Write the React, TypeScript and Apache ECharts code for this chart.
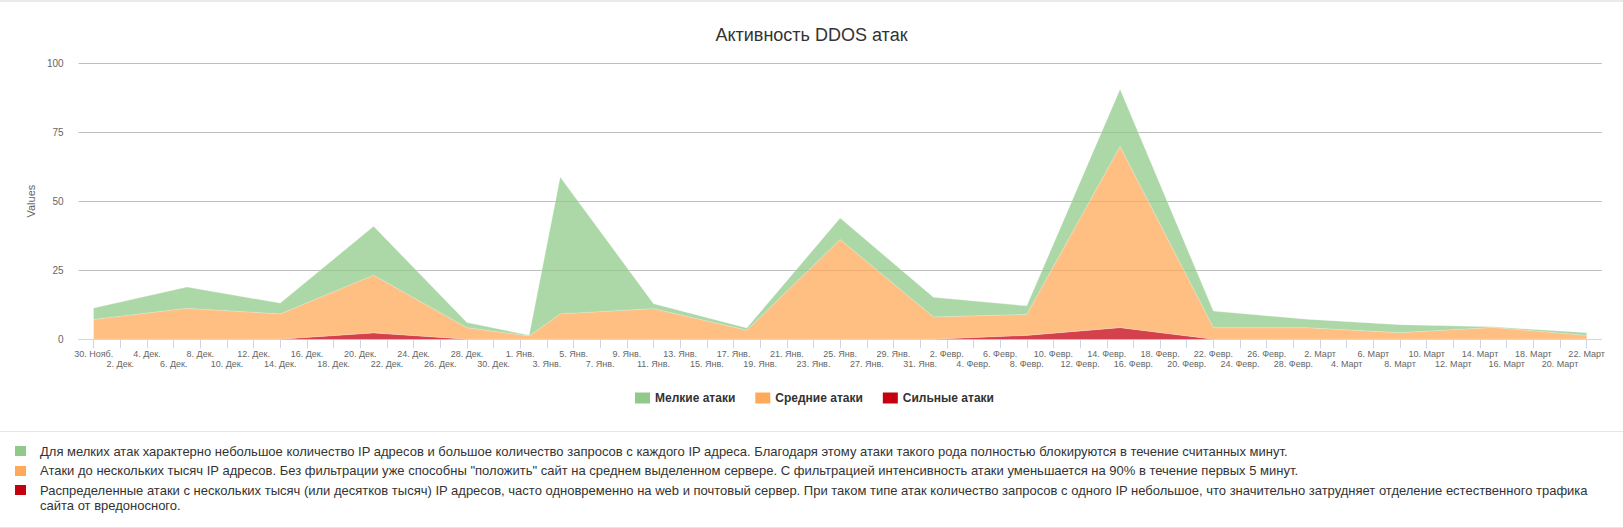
import React, { useEffect, useRef } from "react";
import * as echarts from "echarts";

// dates of the data points (UTC)
const pointDates = [
  "2014-11-30",
  "2014-12-07",
  "2014-12-14",
  "2014-12-21",
  "2014-12-28",
  "2015-01-01T16:00:00Z",
  "2015-01-04",
  "2015-01-11",
  "2015-01-18",
  "2015-01-25",
  "2015-02-01",
  "2015-02-08",
  "2015-02-15",
  "2015-02-22",
  "2015-03-01",
  "2015-03-08",
  "2015-03-15",
  "2015-03-22",
];

const smallAttacks = [4.1, 7.7, 3.9, 17.7, 1.9, 0.25, 49.5, 1.8, 0.8, 7.8, 7.1, 3.1, 20.7, 6.0, 3.1, 2.9, 0.2, 1.0];
const mediumAttacks = [7.2, 11.2, 9.2, 20.9, 4.2, 1.2, 9.2, 11.1, 3.3, 36.1, 8.1, 7.6, 65.6, 4.2, 4.2, 2.4, 4.3, 1.4];
const strongAttacks = [0, 0, 0, 2.3, 0, 0, 0, 0, 0, 0, 0, 1.4, 4.2, 0, 0, 0, 0, 0];

const seriesNames = ["Мелкие атаки", "Средние атаки", "Сильные атаки"];
const seriesColors = ["#90c98a", "#ffaa5a", "#c5000f"];

// one tick every 2 days, starting 30 Nov
const tickLabels = [
  "30. Нояб.",
  "2. Дек.", "4. Дек.", "6. Дек.", "8. Дек.", "10. Дек.", "12. Дек.", "14. Дек.", "16. Дек.",
  "18. Дек.", "20. Дек.", "22. Дек.", "24. Дек.", "26. Дек.", "28. Дек.", "30. Дек.",
  "1. Янв.", "3. Янв.", "5. Янв.", "7. Янв.", "9. Янв.", "11. Янв.", "13. Янв.", "15. Янв.",
  "17. Янв.", "19. Янв.", "21. Янв.", "23. Янв.", "25. Янв.", "27. Янв.", "29. Янв.", "31. Янв.",
  "2. Февр.", "4. Февр.", "6. Февр.", "8. Февр.", "10. Февр.", "12. Февр.", "14. Февр.",
  "16. Февр.", "18. Февр.", "20. Февр.", "22. Февр.", "24. Февр.", "26. Февр.", "28. Февр.",
  "2. Март", "4. Март", "6. Март", "8. Март", "10. Март", "12. Март", "14. Март", "16. Март",
  "18. Март", "20. Март", "22. Март",
];

const descriptions = [
  "Для мелких атак характерно небольшое количество IP адресов и большое количество запросов с каждого IP адреса. Благодаря этому атаки такого рода полностью блокируются в течение считанных минут.",
  "Атаки до нескольких тысяч IP адресов. Без фильтрации уже способны \"положить\" сайт на среднем выделенном сервере. С фильтрацией интенсивность атаки уменьшается на 90% в течение первых 5 минут.",
  "Распределенные атаки с нескольких тысяч (или десятков тысяч) IP адресов, часто одновременно на web и почтовый сервер. При таком типе атак количество запросов с одного IP небольшое, что значительно затрудняет отделение естественного трафика сайта от вредоносного.",
];

const DAY = 86400000;
const START = Date.parse(pointDates[0]);
const dayOffset = (d: string) => (Date.parse(d) - START) / DAY;
const FONT = "'Liberation Sans', Arial, Helvetica, sans-serif";

export default function App() {
  const chartRef = useRef<HTMLDivElement>(null);

  useEffect(() => {
    if (!chartRef.current) return;
    const chart = echarts.init(chartRef.current, null, { renderer: "svg" });

    const xs = pointDates.map(dayOffset);
    const tickDays = tickLabels.map((_, i) => i * 2);
    const evenDays = tickDays.filter((_, i) => i % 2 === 0);
    const oddDays = tickDays.filter((_, i) => i % 2 === 1);
    const lastDay = tickDays[tickDays.length - 1];
    const pad = 1.13;

    const labelFor = (value: number) => tickLabels[Math.round(value / 2)] ?? "";
    const labelStyle = {
      fontSize: 9,
      color: "#666666",
      fontFamily: FONT,
      hideOverlap: false,
      showMinLabel: true,
      showMaxLabel: true,
      formatter: labelFor,
    };

    // value first, day second, so the stack is done on the y values
    const makeSeries = (idx: number, values: number[]) => ({
      name: seriesNames[idx],
      type: "line",
      stack: "total",
      showSymbol: false,
      symbol: "none",
      xAxisIndex: 0,
      encode: { x: 1, y: 0 },
      data: values.map((v, i) => [v, xs[i]]),
      itemStyle: { color: seriesColors[idx] },
      lineStyle: { width: 0.8, color: "rgba(255,255,255,0.35)" },
      areaStyle: { color: seriesColors[idx], opacity: 0.75 },
    });

    const option: echarts.EChartsOption = {
      animation: false,
      textStyle: { fontFamily: FONT },
      title: {
        text: "Активность DDOS атак",
        left: "center",
        top: 24,
        padding: 0,
        textStyle: { fontSize: 18, fontWeight: "normal", color: "#333333", fontFamily: FONT },
      },
      legend: {
        data: seriesNames,
        top: 390,
        left: 635,
        padding: 0,
        icon: "rect",
        itemWidth: 15,
        itemHeight: 11,
        itemGap: 20,
        textStyle: { fontSize: 12, fontWeight: "bold", color: "#333333", fontFamily: FONT },
      },
      grid: { left: 78.6, right: 21.3, top: 61, bottom: 92.7 },
      xAxis: [
        {
          type: "value",
          position: "bottom",
          min: -pad,
          max: lastDay + pad,
          splitLine: { show: false },
          axisLine: { lineStyle: { color: "#ccd6eb" } },
          axisTick: {
            customValues: tickDays,
            length: 9,
            lineStyle: { color: "#ccd6eb" },
          },
          axisLabel: { ...labelStyle, customValues: evenDays, margin: 10 },
        },
        {
          type: "value",
          position: "bottom",
          min: -pad,
          max: lastDay + pad,
          splitLine: { show: false },
          axisLine: { show: false },
          axisTick: { show: false },
          axisLabel: { ...labelStyle, customValues: oddDays, margin: 20 },
        },
      ] as any,
      yAxis: {
        type: "value",
        min: 0,
        max: 100,
        interval: 25,
        name: "Values",
        nameLocation: "middle",
        nameGap: 42,
        nameTextStyle: { fontSize: 11, color: "#666666", fontFamily: FONT },
        axisLine: { show: false },
        axisTick: { show: false },
        axisLabel: { fontSize: 10, color: "#666666", margin: 15, fontFamily: FONT },
        splitLine: { lineStyle: { color: "#bdbdbd" } },
      },
      series: [
        makeSeries(2, strongAttacks),
        makeSeries(1, mediumAttacks),
        makeSeries(0, smallAttacks),
      ] as any,
    };

    chart.setOption(option);

    return () => {
      chart.dispose();
    };
  }, []);

  return (
    <div
      style={{
        position: "absolute",
        left: 0,
        top: 0,
        width: 1623,
        height: 528,
        background: "#ffffff",
        fontFamily: FONT,
        borderTop: "2px solid #e8eaee",
        boxSizing: "border-box",
        overflow: "hidden",
      }}
    >
      <div ref={chartRef} style={{ position: "absolute", left: 0, top: 0, width: 1623, height: 430 }} />
      <div style={{ position: "absolute", left: 0, top: 429, width: 1623, height: 1, background: "#e6e6e6" }} />
      <div style={{ position: "absolute", left: 15, top: 441.5, width: 1590 }}>
        {descriptions.map((text, i) => (
          <div key={i} style={{ position: "relative", paddingLeft: 25, marginBottom: 4.5, fontSize: 13, lineHeight: "15px", color: "#333333" }}>
            <span
              style={{
                position: "absolute",
                left: 0,
                top: 2.5,
                width: 11,
                height: 10,
                background: seriesColors[i],
              }}
            />
            {text}
          </div>
        ))}
      </div>
      <div style={{ position: "absolute", left: 0, top: 524.5, width: 1623, height: 1, background: "#e6e6e6" }} />
    </div>
  );
}
